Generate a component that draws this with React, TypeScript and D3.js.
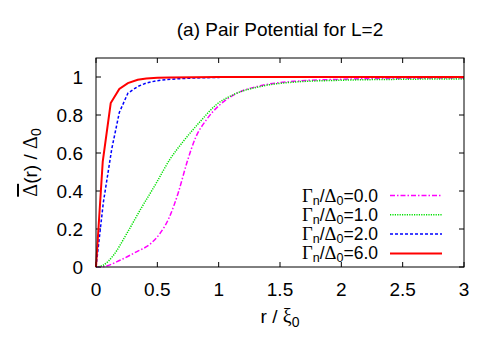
import React from "react";
import { scaleLinear, line, curveMonotoneX } from "d3";

// r / xi0 sample points and normalised gap for each pairing strength
const rGamma0 = [0, 0.06, 0.2, 0.33, 0.44, 0.52, 0.6, 0.67, 0.74, 0.81, 0.9, 1.01, 1.15, 1.34, 1.61, 2.0, 2.5, 3];
const vGamma0 = [0, 0.002, 0.037, 0.08, 0.12, 0.175, 0.265, 0.39, 0.547, 0.678, 0.775, 0.854, 0.915, 0.954, 0.977, 0.988, 0.993, 0.995];

const rGamma1 = [0, 0.06, 0.14, 0.25, 0.36, 0.49, 0.6, 0.71, 0.85, 0.98, 1.12, 1.34, 1.61, 2.0, 2.5, 3];
const vGamma1 = [0, 0.01, 0.06, 0.175, 0.3, 0.44, 0.564, 0.66, 0.766, 0.854, 0.907, 0.95, 0.973, 0.983, 0.988, 0.99];

const rGamma2 = [0, 0.06, 0.128, 0.19, 0.26, 0.34, 0.41, 0.49, 0.57, 0.65, 0.8, 1.0, 1.5, 2, 2.5, 3];
const vGamma2 = [0, 0.34, 0.62, 0.813, 0.915, 0.95, 0.968, 0.98, 0.986, 0.99, 0.995, 0.998, 0.999, 1, 1, 1];

const rGamma6 = [0, 0.055, 0.12, 0.19, 0.26, 0.34, 0.41, 0.5, 0.6, 0.8, 1.0, 1.5, 2, 2.5, 3];
const vGamma6 = [0, 0.555, 0.863, 0.937, 0.968, 0.985, 0.992, 0.996, 0.998, 0.999, 1, 1, 1, 1, 1];

const legendValues = ["0.0", "1.0", "2.0", "6.0"];
const xTicks = [0, 0.5, 1, 1.5, 2, 2.5, 3];
const yTicks = [0, 0.2, 0.4, 0.6, 0.8, 1];

const series = [
  { r: rGamma0, v: vGamma0, color: "#ff00ff", dash: "5,2,1.5,2", width: 1.5, smooth: true },
  { r: rGamma1, v: vGamma1, color: "#00e000", dash: "1.2,1.2", width: 1.5, smooth: true },
  { r: rGamma2, v: vGamma2, color: "#0000ff", dash: "3,2", width: 1.5, smooth: false },
  { r: rGamma6, v: vGamma6, color: "#ff0000", dash: "none", width: 2, smooth: false },
];

const font = "'Liberation Sans', Arial, sans-serif";
const serif = "'Liberation Serif', 'Times New Roman', serif";
const fs = 19;

export default function App() {
  const left = 96, right = 464, top = 58, bottom = 267;
  const x = scaleLinear().domain([0, 3]).range([left, right]);
  const y = scaleLinear().domain([0, 1.1]).range([bottom, top]);
  const tick = 5;

  const fmt = (d: number) => String(d);

  return (
    <svg width={500} height={350} style={{ position: "absolute", left: 0, top: 0, background: "#fff" }}>
      <text x={280} y={36} textAnchor="middle" fontFamily={font} fontSize={fs}>
        (a) Pair Potential for L=2
      </text>

      {/* ticks, mirrored on all sides */}
      {xTicks.map((t) => (
        <g key={"x" + t}>
          <line x1={x(t)} x2={x(t)} y1={bottom} y2={bottom - tick} stroke="#000" />
          <line x1={x(t)} x2={x(t)} y1={top} y2={top + tick} stroke="#000" />
          <text x={x(t)} y={296} textAnchor="middle" fontFamily={font} fontSize={fs}>
            {fmt(t)}
          </text>
        </g>
      ))}
      {yTicks.map((t) => (
        <g key={"y" + t}>
          <line x1={left} x2={left + tick} y1={y(t)} y2={y(t)} stroke="#000" />
          <line x1={right} x2={right - tick} y1={y(t)} y2={y(t)} stroke="#000" />
          <text x={83} y={y(t) + 7} textAnchor="end" fontFamily={font} fontSize={fs}>
            {fmt(t)}
          </text>
        </g>
      ))}

      {series.map((s, i) => {
        const pts = s.r.map((r, j) => [r, s.v[j]] as [number, number]);
        const gen = line<[number, number]>()
          .x((d) => x(d[0]))
          .y((d) => y(d[1]));
        if (s.smooth) gen.curve(curveMonotoneX);
        return (
          <path key={i} d={gen(pts) || ""} fill="none" stroke={s.color} strokeWidth={s.width}
            strokeDasharray={s.dash} />
        );
      })}

      {/* legend */}
      {series.map((s, i) => {
        const ly = 195.5 + i * 19.3;
        return (
          <g key={"l" + i}>
            <text x={378} y={ly + 6} textAnchor="end" fontFamily={font} fontSize={17.5}>
              <tspan fontFamily={serif} fontSize={18.5}>Γ</tspan>
              <tspan fontSize={12.5} dy={3}>n</tspan>
              <tspan dy={-3}>/</tspan>
              <tspan fontFamily={serif} fontSize={18.5}>Δ</tspan>
              <tspan fontSize={12.5} dy={3}>0</tspan>
              <tspan dy={-3}>={legendValues[i]}</tspan>
            </text>
            <line x1={390} x2={442} y1={ly} y2={ly} stroke={s.color} strokeWidth={s.width}
              strokeDasharray={s.dash} />
          </g>
        );
      })}

      <rect x={left} y={top} width={right - left} height={bottom - top} fill="none" stroke="#000" />

      <text x={280} y={323} textAnchor="middle" fontFamily={font} fontSize={fs}>
        r / <tspan fontFamily={serif} fontSize={20}>ξ</tspan>
        <tspan fontSize={14} dy={4}>0</tspan>
      </text>

      <text transform={`translate(37,${(top + bottom) / 2}) rotate(-90)`} textAnchor="middle"
        fontFamily={font} fontSize={fs}>
        <tspan fontFamily={serif} fontSize={20} textDecoration="overline">Δ</tspan>(r) / <tspan fontFamily={serif} fontSize={20}>Δ</tspan>
        <tspan fontSize={14} dy={4}>0</tspan>
      </text>
    </svg>
  );
}
